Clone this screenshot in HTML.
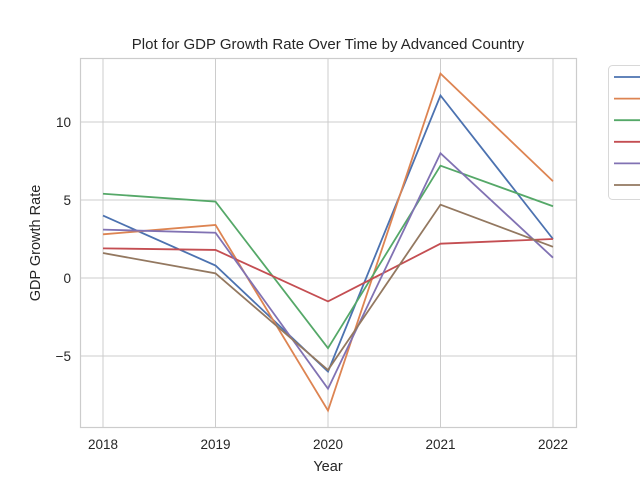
<!DOCTYPE html>
<html><head><meta charset="utf-8"><style>
body{margin:0;background:#fff;font-family:"Liberation Sans","DejaVu Sans",sans-serif}
</style></head><body>
<svg id="chart" width="640" height="480" xmlns="http://www.w3.org/2000/svg">
<rect width="640" height="480" fill="#fff"/>
<g id="grid"></g>
<rect x="80.5" y="58.5" width="496" height="369" fill="none" stroke="#cccccc" stroke-width="1.2"/>
<g id="series"></g>
<g id="ticks" font-size="13.5" fill="#262626"></g>
<text x="328" y="49" text-anchor="middle" font-size="15" fill="#262626">Plot for GDP Growth Rate Over Time by Advanced Country</text>
<text x="328" y="471" text-anchor="middle" font-size="14.5" fill="#262626">Year</text>
<text transform="translate(40,243) rotate(-90)" text-anchor="middle" font-size="14.5" fill="#262626">GDP Growth Rate</text>
<rect x="608.5" y="65.5" width="40" height="134" rx="4" fill="#fff" stroke="#d8d8d8"/>
<g id="legend"></g>
</svg>
<script>
const years=[2018,2019,2020,2021,2022];
const yTicks=[-5,0,5,10];
const s1=[4.0,0.8,-6.0,11.7,2.5];
const s2=[2.8,3.4,-8.5,13.1,6.2];
const s3=[5.4,4.9,-4.5,7.2,4.6];
const s4=[1.9,1.8,-1.5,2.2,2.5];
const s5=[3.1,2.9,-7.1,8.0,1.3];
const s6=[1.6,0.3,-5.9,4.7,2.0];
const seriesList=[s1,s2,s3,s4,s5,s6];
const colors=["#4c72b0","#dd8452","#55a868","#c44e52","#8172b3","#937860"];
const NS="http://www.w3.org/2000/svg";
function xs(v){return 103+(v-2018)*112.5;}
function ys(v){return 278-v*15.6;}
const grid=document.getElementById('grid'),ticks=document.getElementById('ticks');
years.forEach(y=>{
 const l=document.createElementNS(NS,'line');
 
 
 l.setAttribute('x1',xs(y));l.setAttribute('x2',xs(y));l.setAttribute('y1',58);l.setAttribute('y2',427);
 l.setAttribute('stroke','#cccccc');l.setAttribute('stroke-width','1');grid.appendChild(l);
 const t=document.createElementNS(NS,'text');
 
 
 t.setAttribute('x',xs(y));t.setAttribute('y',449);t.setAttribute('text-anchor','middle');t.textContent=y;ticks.appendChild(t);
});
yTicks.forEach(v=>{
 const l=document.createElementNS(NS,'line');
 
 
 l.setAttribute('x1',80);l.setAttribute('x2',576);l.setAttribute('y1',ys(v));l.setAttribute('y2',ys(v));
 l.setAttribute('stroke','#cccccc');l.setAttribute('stroke-width','1');grid.appendChild(l);
 const t=document.createElementNS(NS,'text');
 
 
 t.setAttribute('x',71);t.setAttribute('y',ys(v)+5);t.setAttribute('text-anchor','end');t.textContent=v<0?'\u2212'+(-v):v;ticks.appendChild(t);
});
const sg=document.getElementById('series'),lg=document.getElementById('legend');
seriesList.forEach((s,i)=>{
 const p=document.createElementNS(NS,'polyline');
 
 
 p.setAttribute('points',s.map((v,j)=>xs(years[j])+','+ys(v)).join(' '));
 p.setAttribute('fill','none');p.setAttribute('stroke',colors[i]);p.setAttribute('stroke-width','1.8');
 sg.appendChild(p);
 const l=document.createElementNS(NS,'line');
 
 
 const yy=77+i*21.6;
 l.setAttribute('x1',614);l.setAttribute('x2',642);l.setAttribute('y1',yy);l.setAttribute('y2',yy);
 l.setAttribute('stroke',colors[i]);l.setAttribute('stroke-width','1.8');lg.appendChild(l);
});
</script>
</body></html>
